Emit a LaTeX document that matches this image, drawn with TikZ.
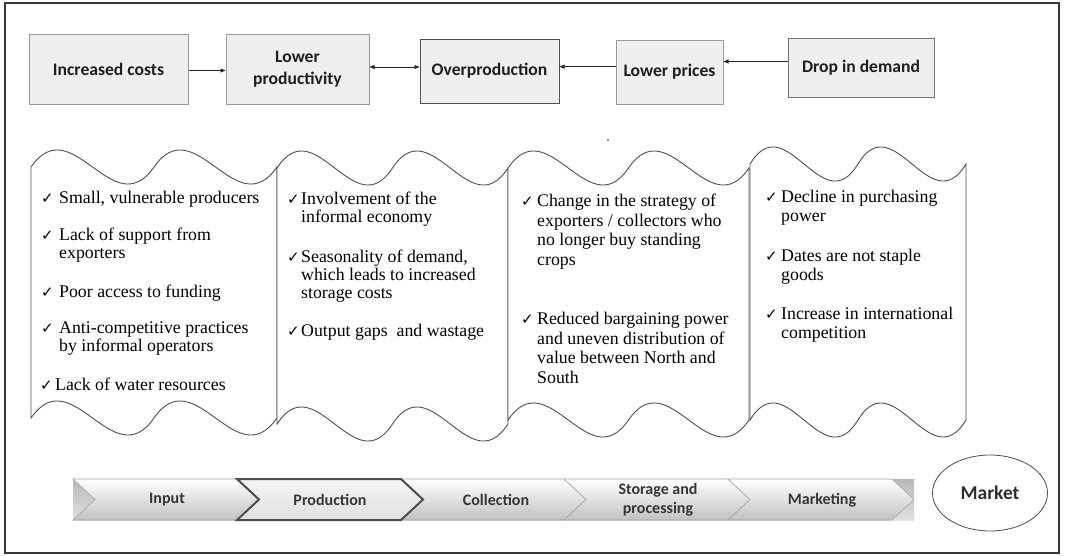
\documentclass[tikz,border=0pt]{standalone}
\usepackage{fontspec}
\setmainfont{Liberation Serif}
\newfontfamily\boxfont{Carlito}
\newfontfamily\checkfont{DejaVu Sans}
\usetikzlibrary{arrows.meta,shapes.geometric}

\definecolor{boxfill}{HTML}{EFEFEF}
\definecolor{boxline}{HTML}{9A9A9A}
\definecolor{darkline}{HTML}{505050}
\definecolor{txtdark}{HTML}{1E1E1E}
\definecolor{chevtxt}{HTML}{363636}

\newcommand\wavepanel[4]{%
  \pgfmathsetmacro\wA{#1+(#2-#1)/6}%
  \pgfmathsetmacro\wB{#1+(#2-#1)/3}%
  \pgfmathsetmacro\wC{#1+(#2-#1)/2}%
  \pgfmathsetmacro\wD{#1+2*(#2-#1)/3}%
  \pgfmathsetmacro\wE{#1+5*(#2-#1)/6}%
  \draw[panel] (#1,#3) .. controls (\wA,#3-59) and (\wB,#3+59) .. (\wC,#3)
     .. controls (\wD,#3-59) and (\wE,#3+59) .. (#2,#3)
     -- (#2,#4)
     .. controls (\wE,#4+59) and (\wD,#4-59) .. (\wC,#4)
     .. controls (\wB,#4+59) and (\wA,#4-59) .. (#1,#4) -- cycle;}

\newcommand\bullitem[5]{%
  \node[chkmark] (#1c) at (#2,#4) {✓};
  \node[itm] (#1) at (#3,#4-12.5) {\rule{0pt}{12.5pt}#5};}

\newcommand\chevpath[1]{(#1,479) -- (#1+164,479) -- (#1+186,499.5) -- (#1+164,520) -- (#1,520) -- (#1+22,499.5) -- cycle}

\begin{document}
\begin{tikzpicture}[x=1pt,y=-1pt,
  frame/.style={draw=black!78,line width=1.2pt},
  topbox/.style={draw=boxline,fill=boxfill,line width=1pt,align=center,inner sep=0pt,
     text=txtdark,font=\boxfont\bfseries\fontsize{17.6}{22}\selectfont},
  arr/.style={draw=black!85,line width=0.8pt,-{Triangle[length=5pt,width=4pt]}},
  arrboth/.style={draw=black!85,line width=0.8pt,{Triangle[length=5pt,width=4pt]}-{Triangle[length=5pt,width=4pt]}},
  panel/.style={draw=darkline,line width=0.9pt,fill=white},
  chkmark/.style={anchor=base west,inner sep=0pt,font=\checkfont\fontsize{15}{15}\selectfont,text=black},
  itm/.style={anchor=north west,inner sep=0pt,align=left,text=black,font=\fontsize{17.8}{18.3}\selectfont},
  chev/.style={top color=white,middle color=white,bottom color=black!24,draw=black!35,line width=0.6pt},
  chevon/.style={top color=black!4,bottom color=black!12,draw=black!70,line width=2pt},
  chevlabel/.style={inner sep=0pt,align=center,text=chevtxt,font=\boxfont\bfseries\fontsize{16}{19}\selectfont}]

\useasboundingbox (0,0) rectangle (1065,555);
\draw[frame] (5,3) rectangle (1059,553);

% top causal chain
\node[topbox,minimum width=159pt,minimum height=70pt] (cost) at (108.5,69) {Increased costs};
\node[topbox,minimum width=143pt,minimum height=70pt] (lowprod) at (297.5,69) {Lower\\productivity};
\node[topbox,draw=darkline,minimum width=139pt,minimum height=64pt] (overprod) at (489.5,71) {Overproduction};
\node[topbox,minimum width=107pt,minimum height=64pt] (lowprice) at (669.5,72) {Lower prices};
\node[topbox,draw=black!55,minimum width=146pt,minimum height=59pt] (drop) at (861,67.5) {Drop in demand};

\draw[arr] ([yshift=-1.5pt]cost.east) -- ([yshift=-1.5pt]lowprod.west);
\draw[arrboth] ([yshift=2pt]lowprod.east) -- ([yshift=4pt]overprod.west);
\draw[arr] ([yshift=5.3pt]lowprice.west) -- ([yshift=4.3pt]overprod.east);
\draw[arr] ([yshift=6pt]drop.west) -- ([yshift=10.5pt]lowprice.east);

\fill[black!80] (608,140) circle (0.9pt);

% wave panels
\wavepanel{31}{277}{167}{418}
\wavepanel{277}{508}{168}{424}
\wavepanel{508}{749}{168}{420}
\wavepanel{750}{966}{164}{420}

% panel 1
\bullitem{a1}{41}{59}{203}{Small, vulnerable producers}
\bullitem{a2}{41}{59}{240}{Lack of support from\\exporters}
\bullitem{a3}{41}{59}{297}{Poor access to funding}
\bullitem{a4}{41}{59}{333}{Anti-competitive practices\\by informal operators}
\bullitem{a5}{40}{55}{390.5}{Lack of water resources}

% panel 2
\bullitem{b1}{287}{301}{204}{Involvement of the\\informal economy}
\bullitem{b2}{287}{301}{262}{Seasonality of demand,\\which leads to increased\\storage costs}
\bullitem{b3}{287}{301}{336}{Output gaps\ \ and wastage}

\begin{scope}[itm/.append style={font=\fontsize{17.8}{19.5}\selectfont}]
% panel 3
\bullitem{c1}{521}{537}{206.5}{Change in the strategy of\\exporters / collectors who\\no longer buy standing\\crops}
\bullitem{c2}{521}{537}{324.5}{Reduced bargaining power\\and uneven distribution of\\value between North and\\South}
% panel 4
\bullitem{d1}{765}{781}{202}{Decline in purchasing\\power}
\bullitem{d2}{765}{781}{261}{Dates are not staple\\goods}
\bullitem{d3}{765}{781}{319}{Increase in international\\competition}
\end{scope}

% value chain bar
\shade[top color=black!28,bottom color=black!12] (73,479) rectangle (914,520);
\draw[chev] \chevpath{73};
\draw[chev] \chevpath{400};
\draw[chev] \chevpath{564};
\draw[chev] \chevpath{728};
\draw[chevon] \chevpath{237};

\node[chevlabel] (input) at (167,499.5) {Input};
\node[chevlabel] (prod) at (330,499.5) {Production};
\node[chevlabel] (coll) at (496,499.5) {Collection};
\node[chevlabel] (stor) at (658,500) {Storage and\\processing};
\node[chevlabel] (mark) at (822,500.5) {Marketing};

\node[draw=black!70,line width=0.8pt,ellipse,minimum width=115pt,minimum height=76pt,inner sep=0pt,
  text=black!82,font=\boxfont\bfseries\fontsize{19.5}{22}\selectfont] (market) at (990,493) {Market};
\end{tikzpicture}
\end{document}
